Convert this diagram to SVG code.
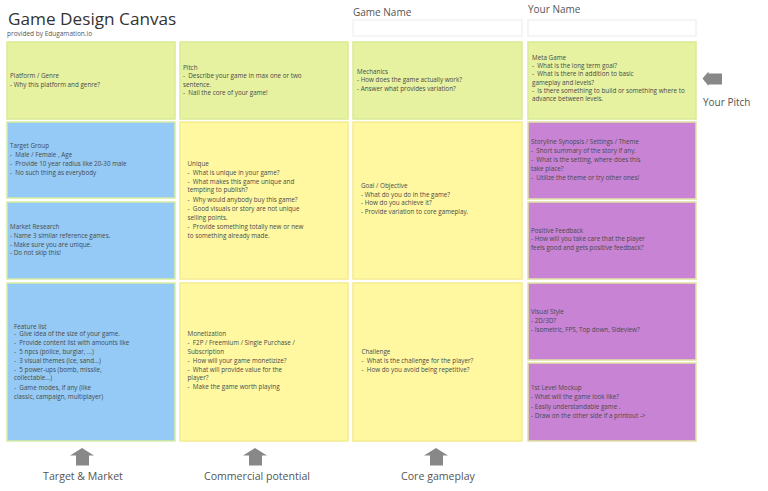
<svg xmlns="http://www.w3.org/2000/svg" width="768" height="491" viewBox="0 0 768 491">
<style>
text{font-family:"Open Sans","Noto Sans","Liberation Sans",sans-serif;white-space:pre}
.t{font-size:6.3px;fill:#4a4a4a}
.lbl{font-size:10.6px;fill:#555}
.g{fill:#e6f2a0;stroke:#d9ea95;stroke-width:1.5}
.b{fill:#94caf5;stroke:#d6eca0;stroke-width:1.5}
.y{fill:#fff8a0;stroke:#f3ec90;stroke-width:1.5}
.p{fill:#c883d4;stroke:#dfe3a0;stroke-width:1.5}
.inp{fill:#fff;stroke:#eeeeee;stroke-width:1.2}
.arr{fill:#888}
</style>
<rect width="768" height="491" fill="#fff"/>
<g id="header">
<text x="8" y="25" style="font-size:17.2px;fill:#333">Game Design Canvas</text>
<text x="7" y="35.5" style="font-size:6.5px;fill:#555">provided by Edugamation.io</text>
<text x="353" y="16" class="lbl" style="font-size:10px">Game Name</text>
<rect x="353" y="20" width="169" height="16" class="inp"/>
<text x="528" y="13" class="lbl" style="font-size:10px">Your Name</text>
<rect x="528" y="20" width="168" height="16" class="inp"/>
</g>
<g id="platform">
<rect x="7" y="42" width="168" height="77" class="g"/>
<text class="t"><tspan x="10" y="77.7">Platform / Genre</tspan><tspan x="10" y="87">- Why this platform and genre?</tspan></text>
</g>
<g id="pitch">
<rect x="180" y="42" width="168" height="77" class="g"/>
<text class="t"><tspan x="183" y="70">Pitch</tspan><tspan x="183" y="78">-  Describe your game in max one or two</tspan><tspan x="183" y="87">sentence.</tspan><tspan x="183" y="95">-  Nail the core of your game!</tspan></text>
</g>
<g id="mechanics">
<rect x="353" y="42" width="169" height="77" class="g"/>
<text class="t"><tspan x="357" y="73.7">Mechanics</tspan><tspan x="357" y="82">- How does the game actually work?</tspan><tspan x="357" y="90.7">- Answer what provides variation?</tspan></text>
</g>
<g id="metagame">
<rect x="528" y="42" width="168" height="77" class="g"/>
<text class="t"><tspan x="532" y="59.7">Meta Game</tspan><tspan x="532" y="67.7">-  What is the long term goal?</tspan><tspan x="532" y="76">-  What is there in addition to basic</tspan><tspan x="532" y="84.7">gameplay and levels?</tspan><tspan x="532" y="93">-  Is there something to build or something where to</tspan><tspan x="532" y="101.3">advance between levels.</tspan></text>
</g>
<g id="target-group">
<rect x="7" y="122" width="168" height="76" class="b"/>
<text class="t"><tspan x="10" y="147.7">Target Group</tspan><tspan x="10" y="156.7">-  Male / Female , Age</tspan><tspan x="10" y="165.7">-  Provide 10 year radius like 20-30 male</tspan><tspan x="10" y="174.7">-  No such thing as everybody</tspan></text>
</g>
<g id="market-research">
<rect x="7" y="202" width="168" height="77" class="b"/>
<text class="t"><tspan x="10" y="229.3">Market Research</tspan><tspan x="10" y="238">- Name 3 similar reference games.</tspan><tspan x="10" y="246.7">- Make sure you are unique.</tspan><tspan x="10" y="255.3">- Do not skip this!</tspan></text>
</g>
<g id="unique">
<rect x="180" y="122" width="168" height="157" class="y"/>
<text class="t"><tspan x="187.5" y="166">Unique</tspan><tspan x="187.5" y="174.7">-  What is unique in your game?</tspan><tspan x="187.5" y="184">-  What makes this game unique and</tspan><tspan x="187.5" y="192.3">tempting to publish?</tspan><tspan x="187.5" y="202">-  Why would anybody buy this game?</tspan><tspan x="187.5" y="211">-  Good visuals or story are not unique</tspan><tspan x="187.5" y="219.7">selling points.</tspan><tspan x="187.5" y="228.7">-  Provide something totally new or new</tspan><tspan x="187.5" y="237.7">to something already made.</tspan></text>
</g>
<g id="goal">
<rect x="353" y="122" width="169" height="157" class="y"/>
<text class="t"><tspan x="361" y="187.7">Goal / Objective</tspan><tspan x="361" y="196.7">- What do you do in the game?</tspan><tspan x="361" y="205.3">- How do you achieve it?</tspan><tspan x="361" y="214.3">- Provide variation to core gameplay.</tspan></text>
</g>
<g id="storyline">
<rect x="528" y="122" width="168" height="77" class="p"/>
<text class="t"><tspan x="531" y="144.3">Storyline Synopsis / Settings / Theme</tspan><tspan x="531" y="153.3">-  Short summary of the story if any.</tspan><tspan x="531" y="162.3">-  What is the setting, where does this</tspan><tspan x="531" y="170.7">take place?</tspan><tspan x="531" y="179.7">-  Utilize the theme or try other ones!</tspan></text>
</g>
<g id="positive-feedback">
<rect x="528" y="202" width="168" height="77" class="p"/>
<text class="t"><tspan x="531" y="232.7">Positive Feedback</tspan><tspan x="531" y="241.3">- How will you take care that the player</tspan><tspan x="531" y="250.3">feels good and gets positive feedback?</tspan></text>
</g>
<g id="feature-list">
<rect x="7" y="283" width="168" height="158" class="b"/>
<text class="t"><tspan x="14" y="328.7">Feature list</tspan><tspan x="14" y="336.3">-  Give idea of the size of your game.</tspan><tspan x="14" y="345.3">-  Provide content list with amounts like</tspan><tspan x="14" y="354.3">-  5 npcs (police, burglar, ...)</tspan><tspan x="14" y="363.3">-  3 visual themes (ice, sand...)</tspan><tspan x="14" y="372.3">-  5 power-ups (bomb, missile,</tspan><tspan x="14" y="380.3">collectable...)</tspan><tspan x="14" y="390">-  Game modes, if any (like</tspan><tspan x="14" y="399">classic, campaign, multiplayer)</tspan></text>
</g>
<g id="monetization">
<rect x="180" y="283" width="168" height="158" class="y"/>
<text class="t"><tspan x="187.5" y="336">Monetization</tspan><tspan x="187.5" y="344.7">-  F2P / Freemium / Single Purchase /</tspan><tspan x="187.5" y="353.7">Subscription</tspan><tspan x="187.5" y="362.7">-  How will your game monetizize?</tspan><tspan x="187.5" y="372">-  What will provide value for the</tspan><tspan x="187.5" y="380.3">player?</tspan><tspan x="187.5" y="389.3">-  Make the game worth playing</tspan></text>
</g>
<g id="challenge">
<rect x="353" y="283" width="169" height="158" class="y"/>
<text class="t"><tspan x="361.5" y="353.7">Challenge</tspan><tspan x="361.5" y="363">-  What is the challenge for the player?</tspan><tspan x="361.5" y="372">-  How do you avoid being repetitive?</tspan></text>
</g>
<g id="visual-style">
<rect x="528" y="283" width="168" height="77" class="p"/>
<text class="t"><tspan x="531" y="314.3">Visual Style</tspan><tspan x="531" y="323.3">- 2D/3D?</tspan><tspan x="531" y="332">- Isometric, FPS, Top down, Sideview?</tspan></text>
</g>
<g id="level-mockup">
<rect x="528" y="363" width="168" height="78" class="p"/>
<text class="t"><tspan x="531" y="390.3">1st Level Mockup</tspan><tspan x="531" y="399.3">- What will the game look like?</tspan><tspan x="531" y="408.7">- Easily understandable game .</tspan><tspan x="531" y="417.7">- Draw on the other side if a printout -&gt;</tspan></text>
</g>
<g id="arrows">
<polygon class="arr" points="70,455.5 82,448 94,455.5 89,455.5 89,465.5 76,465.5 76,455.5"/>
<polygon class="arr" points="243,455.5 255,448 267,455.5 262,455.5 262,465.5 249,465.5 249,455.5"/>
<polygon class="arr" points="424,455.5 436,448 448,455.5 443,455.5 443,465.5 430,465.5 430,455.5"/>
<polygon class="arr" points="702.5,78.5 708.5,71.5 708.5,73.5 722,73.5 722,84.5 708.5,84.5 708.5,86"/>
</g>
<g id="labels">
<text x="83" y="480" class="lbl" text-anchor="middle">Target &amp; Market</text>
<text x="257" y="480" class="lbl" text-anchor="middle">Commercial potential</text>
<text x="438" y="480" class="lbl" text-anchor="middle">Core gameplay</text>
<text x="703" y="106" class="lbl" style="font-size:10px">Your Pitch</text>
</g>
</svg>
